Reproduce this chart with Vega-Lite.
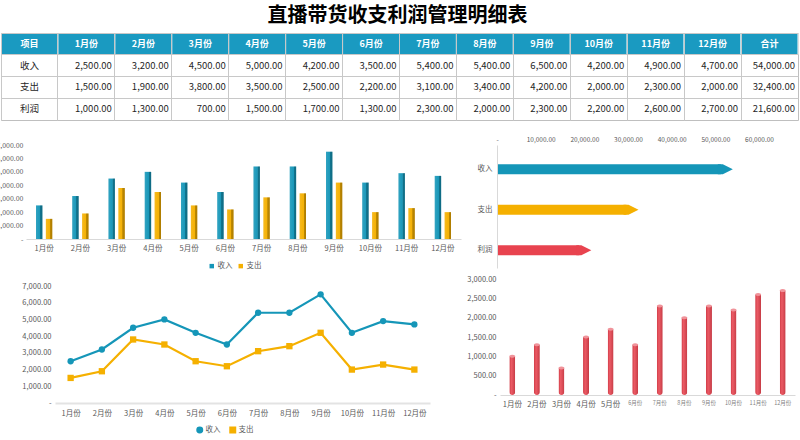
{
  "$schema": "https://vega.github.io/schema/vega-lite/v6.json",
  "background": "#FFFFFF",
  "padding": {"left": -5, "top": 6, "right": 0, "bottom": 0},
  "title": {"text": "直播带货收支利润管理明细表", "font": "Noto Sans CJK SC", "fontSize": 20, "fontWeight": "bold", "color": "#000000", "anchor": "middle", "offset": 6},
  "config": {
    "font": "Noto Sans CJK SC",
    "view": {"stroke": null},
    "axis": {"labelFont": "Noto Sans CJK SC", "labelColor": "#595959", "labelFontSize": 7.5, "labelOverlap": false},
    "legend": {"labelFont": "Noto Sans CJK SC", "labelColor": "#595959", "labelFontSize": 7.5}
  },
  "datasets": {
    "columns": [
      {"col": "项目"}, {"col": "1月份"}, {"col": "2月份"}, {"col": "3月份"}, {"col": "4月份"},
      {"col": "5月份"}, {"col": "6月份"}, {"col": "7月份"}, {"col": "8月份"}, {"col": "9月份"},
      {"col": "10月份"}, {"col": "11月份"}, {"col": "12月份"}, {"col": "合计"}
    ],
    "monthly": [
      {"month": "1月份", "item": "收入", "value": 2500}, {"month": "2月份", "item": "收入", "value": 3200},
      {"month": "3月份", "item": "收入", "value": 4500}, {"month": "4月份", "item": "收入", "value": 5000},
      {"month": "5月份", "item": "收入", "value": 4200}, {"month": "6月份", "item": "收入", "value": 3500},
      {"month": "7月份", "item": "收入", "value": 5400}, {"month": "8月份", "item": "收入", "value": 5400},
      {"month": "9月份", "item": "收入", "value": 6500}, {"month": "10月份", "item": "收入", "value": 4200},
      {"month": "11月份", "item": "收入", "value": 4900}, {"month": "12月份", "item": "收入", "value": 4700},
      {"month": "1月份", "item": "支出", "value": 1500}, {"month": "2月份", "item": "支出", "value": 1900},
      {"month": "3月份", "item": "支出", "value": 3800}, {"month": "4月份", "item": "支出", "value": 3500},
      {"month": "5月份", "item": "支出", "value": 2500}, {"month": "6月份", "item": "支出", "value": 2200},
      {"month": "7月份", "item": "支出", "value": 3100}, {"month": "8月份", "item": "支出", "value": 3400},
      {"month": "9月份", "item": "支出", "value": 4200}, {"month": "10月份", "item": "支出", "value": 2000},
      {"month": "11月份", "item": "支出", "value": 2300}, {"month": "12月份", "item": "支出", "value": 2000},
      {"month": "1月份", "item": "利润", "value": 1000}, {"month": "2月份", "item": "利润", "value": 1300},
      {"month": "3月份", "item": "利润", "value": 700}, {"month": "4月份", "item": "利润", "value": 1500},
      {"month": "5月份", "item": "利润", "value": 1700}, {"month": "6月份", "item": "利润", "value": 1300},
      {"month": "7月份", "item": "利润", "value": 2300}, {"month": "8月份", "item": "利润", "value": 2000},
      {"month": "9月份", "item": "利润", "value": 2300}, {"month": "10月份", "item": "利润", "value": 2200},
      {"month": "11月份", "item": "利润", "value": 2600}, {"month": "12月份", "item": "利润", "value": 2700}
    ],
    "totals": [
      {"item": "收入", "value": 54000},
      {"item": "支出", "value": 32400},
      {"item": "利润", "value": 21600}
    ]
  },
  "bounds": "flush",
  "spacing": 25,
  "resolve": {"scale": {"color": "independent", "shape": "independent"}, "legend": {"color": "independent", "shape": "independent"}},
  "vconcat": [
    {
      "width": 797,
      "height": 87,
      "view": {"stroke": "#BFBFBF"},
      "layer": [
        {
          "data": {"name": "columns"},
          "mark": {"type": "rect", "fill": "#1A9AC1", "stroke": "#FFFFFF", "strokeWidth": 1},
          "encoding": {
            "x": {"field": "col", "type": "ordinal", "scale": {"domain": ["项目", "1月份", "2月份", "3月份", "4月份", "5月份", "6月份", "7月份", "8月份", "9月份", "10月份", "11月份", "12月份", "合计"], "paddingInner": 0, "paddingOuter": 0},
              "axis": {"title": null, "orient": "top", "labels": false, "ticks": false, "domain": false, "grid": true, "gridColor": "#C8C8C8", "bandPosition": 0}},
            "y": {"datum": "项目", "type": "ordinal", "scale": {"domain": ["项目", "收入", "支出", "利润"], "paddingInner": 0, "paddingOuter": 0},
              "axis": {"title": null, "labels": false, "ticks": false, "domain": false, "grid": true, "gridColor": "#C8C8C8", "bandPosition": 0}}
          }
        },
        {
          "data": {"name": "columns"},
          "mark": {"type": "text", "color": "#FFFFFF", "fontWeight": "bold", "fontSize": 9},
          "encoding": {
            "x": {"field": "col", "type": "ordinal", "scale": {"domain": ["项目", "1月份", "2月份", "3月份", "4月份", "5月份", "6月份", "7月份", "8月份", "9月份", "10月份", "11月份", "12月份", "合计"], "paddingInner": 0, "paddingOuter": 0},
              "axis": {"title": null, "orient": "top", "labels": false, "ticks": false, "domain": false, "grid": true, "gridColor": "#C8C8C8", "bandPosition": 0}},
            "y": {"datum": "项目", "type": "ordinal"},
            "text": {"field": "col", "type": "nominal"}
          }
        },
        {
          "data": {"name": "totals"},
          "mark": {"type": "text", "color": "#262626", "fontSize": 9.5},
          "encoding": {
            "x": {"datum": "项目", "type": "ordinal"},
            "y": {"field": "item", "type": "ordinal", "scale": {"domain": ["项目", "收入", "支出", "利润"], "paddingInner": 0, "paddingOuter": 0},
              "axis": {"title": null, "labels": false, "ticks": false, "domain": false, "grid": true, "gridColor": "#C8C8C8", "bandPosition": 0}},
            "text": {"field": "item", "type": "nominal"}
          }
        },
        {
          "data": {"name": "monthly"},
          "mark": {"type": "text", "color": "#262626", "fontSize": 9.5, "align": "right", "dx": -3},
          "encoding": {
            "x": {"field": "month", "type": "ordinal", "bandPosition": 1, "scale": {"domain": ["项目", "1月份", "2月份", "3月份", "4月份", "5月份", "6月份", "7月份", "8月份", "9月份", "10月份", "11月份", "12月份", "合计"], "paddingInner": 0, "paddingOuter": 0},
              "axis": {"title": null, "orient": "top", "labels": false, "ticks": false, "domain": false, "grid": true, "gridColor": "#C8C8C8", "bandPosition": 0}},
            "y": {"field": "item", "type": "ordinal", "scale": {"domain": ["项目", "收入", "支出", "利润"], "paddingInner": 0, "paddingOuter": 0},
              "axis": {"title": null, "labels": false, "ticks": false, "domain": false, "grid": true, "gridColor": "#C8C8C8", "bandPosition": 0}},
            "text": {"field": "value", "type": "quantitative", "format": ",.2f"}
          }
        },
        {
          "data": {"name": "totals"},
          "mark": {"type": "text", "color": "#262626", "fontSize": 9.5, "align": "right", "dx": -3},
          "encoding": {
            "x": {"datum": "合计", "type": "ordinal", "bandPosition": 1},
            "y": {"field": "item", "type": "ordinal", "scale": {"domain": ["项目", "收入", "支出", "利润"], "paddingInner": 0, "paddingOuter": 0},
              "axis": {"title": null, "labels": false, "ticks": false, "domain": false, "grid": true, "gridColor": "#C8C8C8", "bandPosition": 0}},
            "text": {"field": "value", "type": "quantitative", "format": ",.2f"}
          }
        }
      ]
    },
    {
      "bounds": "flush",
      "spacing": 496,
      "resolve": {"scale": {"color": "independent", "shape": "independent"}, "legend": {"color": "independent", "shape": "independent"}},
      "hconcat": [
        {
          "bounds": "flush",
          "spacing": 47,
          "resolve": {"scale": {"color": "independent", "shape": "independent"}, "legend": {"color": "independent", "shape": "independent"}},
          "vconcat": [
            {
              "width": 460,
              "height": 94,
              "data": {"name": "monthly"},
              "transform": [{"filter": "datum.item !== '利润'"}],
              "encoding": {
                "x": {"field": "month", "type": "ordinal", "sort": ["1月份", "2月份", "3月份", "4月份", "5月份", "6月份", "7月份", "8月份", "9月份", "10月份", "11月份", "12月份"],
                  "scale": {"range": [25, 460], "paddingInner": 0.55, "paddingOuter": 0.275},
                  "axis": {"title": null, "labelAngle": 0, "ticks": false, "domainColor": "#D9D9D9", "labelPadding": 5}},
                "xOffset": {"field": "item", "type": "nominal", "sort": ["收入", "支出"], "scale": {"paddingInner": 0.35, "paddingOuter": 0}},
                "y": {"field": "value", "type": "quantitative", "scale": {"domain": [0, 7000]},
                  "axis": {"title": null, "values": [0, 1000, 2000, 3000, 4000, 5000, 6000, 7000], "labelExpr": "datum.value === 0 ? '-' : format(datum.value, ',.2f')", "offset": -25, "domain": false, "ticks": false, "grid": false, "labelPadding": 3, "labelFontSize": 7}}
              },
              "layer": [
                {
                  "mark": {"type": "bar"},
                  "encoding": {
                    "color": {"field": "item", "type": "nominal", "scale": {"domain": ["收入", "支出"], "range": ["#1596B8", "#F5B000"]},
                      "legend": {"title": null, "orient": "none", "direction": "horizontal", "legendX": 207, "legendY": 117, "symbolType": "square", "symbolSize": 20, "columnPadding": 4, "labelOffset": 2}}
                  }
                },
                {
                  "mark": {"type": "bar", "fill": {"gradient": "linear", "x1": 0, "x2": 1, "y1": 0, "y2": 0, "stops": [
                    {"offset": 0, "color": "rgba(255,255,255,0.12)"},
                    {"offset": 0.6, "color": "rgba(255,255,255,0.02)"},
                    {"offset": 0.65, "color": "rgba(0,0,0,0.22)"},
                    {"offset": 1, "color": "rgba(0,0,0,0.3)"}
                  ]}}
                }
              ]
            },
            {
              "width": 429,
              "height": 117,
              "data": {"name": "monthly"},
              "transform": [{"filter": "datum.item !== '利润'"}],
              "encoding": {
                "x": {"field": "month", "type": "ordinal", "sort": ["1月份", "2月份", "3月份", "4月份", "5月份", "6月份", "7月份", "8月份", "9月份", "10月份", "11月份", "12月份"],
                  "scale": {"type": "point", "range": [54, 429], "padding": 0.5},
                  "axis": {"title": null, "labelAngle": 0, "ticks": false, "domainColor": "#E3E3E3", "domainWidth": 2, "labelPadding": 6}},
                "y": {"field": "value", "type": "quantitative", "scale": {"domain": [0, 7000]},
                  "axis": {"title": null, "values": [0, 1000, 2000, 3000, 4000, 5000, 6000, 7000], "labelExpr": "datum.value === 0 ? '-' : format(datum.value, ',.2f')", "offset": -54, "domain": false, "ticks": false, "grid": false, "labelPadding": 4}},
                "color": {"field": "item", "type": "nominal", "scale": {"domain": ["收入", "支出"], "range": ["#1596B8", "#F5B000"]},
                  "legend": {"title": null, "orient": "none", "direction": "horizontal", "legendX": 195, "legendY": 140, "symbolSize": 30, "columnPadding": 6, "labelOffset": 2}}
              },
              "layer": [
                {"mark": {"type": "line", "strokeWidth": 2.2}},
                {
                  "mark": {"type": "point", "filled": true, "opacity": 1, "size": 40},
                  "encoding": {
                    "shape": {"field": "item", "type": "nominal", "scale": {"domain": ["收入", "支出"], "range": ["circle", "square"]},
                      "legend": {"title": null, "orient": "none", "direction": "horizontal", "legendX": 195, "legendY": 140, "symbolSize": 30, "columnPadding": 6, "labelOffset": 2}}
                  }
                }
              ]
            }
          ]
        },
        {
          "bounds": "flush",
          "spacing": 11,
          "resolve": {"scale": {"color": "independent", "shape": "independent"}, "legend": {"color": "independent", "shape": "independent"}},
          "vconcat": [
            {
              "width": 262,
              "height": 123,
              "data": {"name": "totals"},
              "encoding": {
                "y": {"field": "item", "type": "nominal", "sort": ["收入", "支出", "利润"], "scale": {"paddingInner": 0.753, "paddingOuter": 0.395, "align": 0.6},
                  "axis": {"title": null, "ticks": false, "domainColor": "#D9D9D9", "labelPadding": 5, "zindex": 1}},
                "x": {"field": "value", "type": "quantitative", "scale": {"domain": [0, 60000]},
                  "axis": {"orient": "top", "title": null, "values": [0, 10000, 20000, 30000, 40000, 50000, 60000], "labelExpr": "datum.value === 0 ? '-' : format(datum.value, ',.2f')", "labelOverlap": false, "labelFlush": false, "labelFontSize": 6.5, "domain": false, "ticks": false, "grid": false, "labelPadding": 3}},
                "color": {"field": "item", "type": "nominal", "scale": {"domain": ["收入", "支出", "利润"], "range": ["#1596B8", "#F5B000", "#E8434F"]}, "legend": null}
              },
              "layer": [
                {
                  "mark": {"type": "bar", "xOffset": -12, "x2Offset": 0},
                  "encoding": {"x2": {"datum": 0}}
                },
                {"mark": {"type": "point", "filled": true, "opacity": 1, "size": 100, "shape": "M -3 -1 L -2 -1 L 0 0 L -2 1 L -3 1 Z"}}
              ]
            },
            {
              "width": 298,
              "height": 116,
              "data": {"name": "monthly"},
              "transform": [{"filter": "datum.item === '利润'"}],
              "encoding": {
                "x": {"field": "month", "type": "ordinal", "sort": ["1月份", "2月份", "3月份", "4月份", "5月份", "6月份", "7月份", "8月份", "9月份", "10月份", "11月份", "12月份"],
                  "scale": {"range": [3, 298], "paddingInner": 0.756, "paddingOuter": 0.378},
                  "axis": {"title": null, "labelAngle": 0, "ticks": false, "domainColor": "#D9D9D9", "labelPadding": 5,
                    "labelFontSize": {"condition": {"test": "indexof(['6月份', '7月份', '8月份', '9月份', '10月份', '11月份', '12月份'], datum.value) >= 0", "value": 5.5}, "value": 7.5},
                    "labelColor": {"condition": {"test": "indexof(['6月份', '7月份', '8月份', '9月份', '10月份', '11月份', '12月份'], datum.value) >= 0", "value": "#7F7F7F"}, "value": "#595959"}}},
                "y": {"field": "value", "type": "quantitative", "scale": {"domain": [0, 3000]},
                  "axis": {"title": null, "values": [0, 500, 1000, 1500, 2000, 2500, 3000], "labelExpr": "datum.value === 0 ? '-' : format(datum.value, ',.2f')", "offset": -3, "domain": false, "ticks": false, "grid": false, "labelPadding": 4}}
              },
              "layer": [
                {"mark": {"type": "bar", "color": "#E8434F", "cornerRadiusBottomLeft": 3, "cornerRadiusBottomRight": 3}},
                {
                  "mark": {"type": "bar", "cornerRadiusBottomLeft": 3, "cornerRadiusBottomRight": 3, "fill": {"gradient": "linear", "x1": 0, "x2": 1, "y1": 0, "y2": 0, "stops": [
                    {"offset": 0, "color": "rgba(0,0,0,0.10)"},
                    {"offset": 0.35, "color": "rgba(255,255,255,0.12)"},
                    {"offset": 1, "color": "rgba(0,0,0,0.16)"}
                  ]}}
                },
                {"mark": {"type": "point", "filled": true, "opacity": 1, "color": "#F0939A", "size": 36, "shape": "M 1 0 L 0.87 0.25 L 0.5 0.43 L 0 0.5 L -0.5 0.43 L -0.87 0.25 L -1 0 L -0.87 -0.25 L -0.5 -0.43 L 0 -0.5 L 0.5 -0.43 L 0.87 -0.25 Z"}}
              ]
            }
          ]
        }
      ]
    }
  ]
}
